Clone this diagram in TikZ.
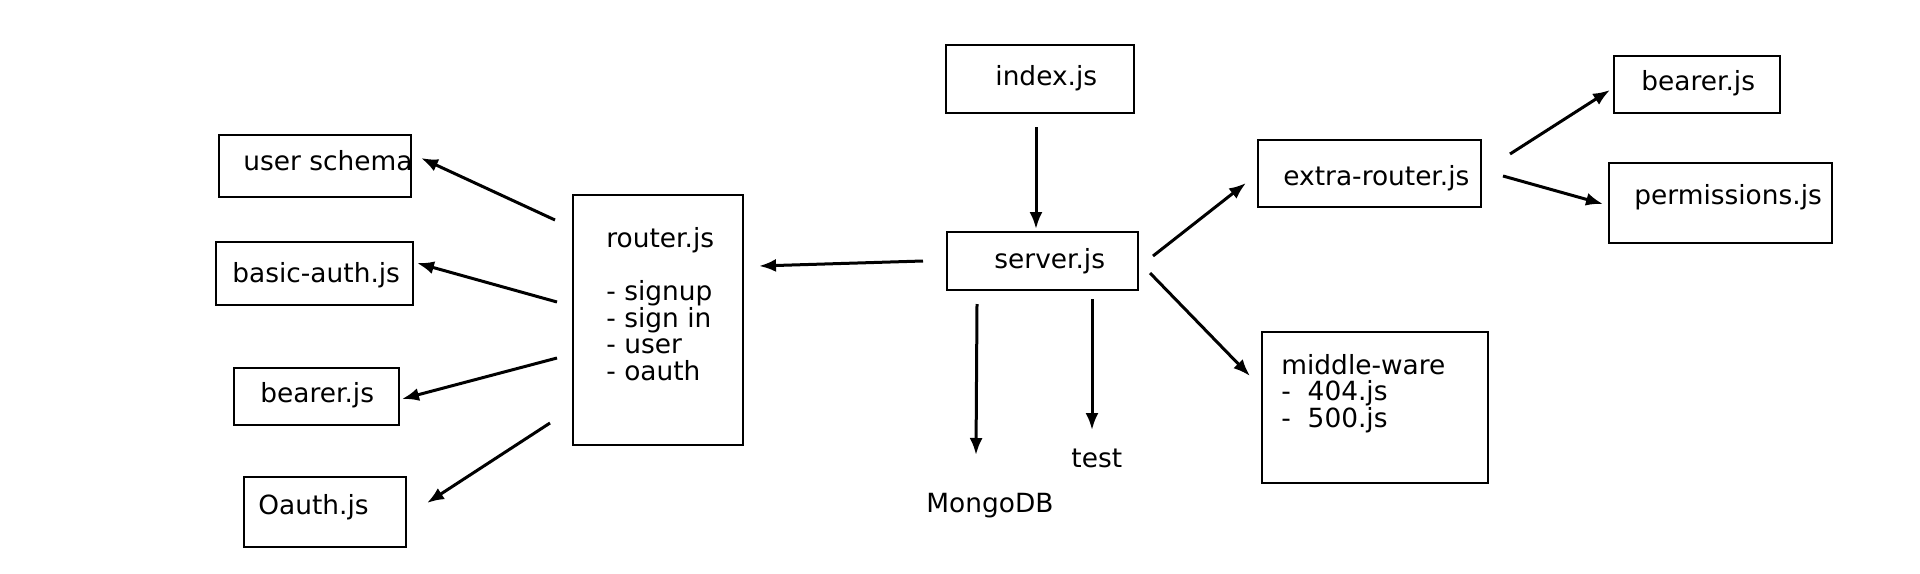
\documentclass[tikz,border=0pt]{standalone}
\usepackage{fontspec}
\setmainfont{DejaVu Sans}
\usetikzlibrary{arrows.meta}
\tikzset{>={Latex[length=8.5pt,width=6.5pt]}}
\tikzstyle{box} = [draw, line width=0.6pt, inner sep=0]
\tikzstyle{lbl} = [draw=none, anchor=base west, inner sep=0, align=left, font=\fontsize{13.2}{13.25}\selectfont]
\tikzstyle{link} = [->, line width=1.5pt]

\begin{document}
\begin{tikzpicture}[x=0.5pt, y=-0.5pt]
\useasboundingbox (0,0) rectangle (1920,573);
% boxes
\node [box, minimum width=96pt, minimum height=31pt] (user) at (315,166) {};
\node [box, minimum width=98.5pt, minimum height=31.5pt] (basic) at (314.5,273.5) {};
\node [box, minimum width=82.5pt, minimum height=28.5pt] (bearerL) at (316.5,396.5) {};
\node [box, minimum width=81pt, minimum height=35pt] (oauth) at (325,512) {};
\node [box, minimum width=85pt, minimum height=125pt] (router) at (658,320) {};
\node [box, minimum width=94pt, minimum height=34pt] (index) at (1040,79) {};
\node [box, minimum width=95.5pt, minimum height=29pt] (server) at (1042.5,261) {};
\node [box, minimum width=111.5pt, minimum height=33.5pt] (extra) at (1369.5,173.5) {};
\node [box, minimum width=83pt, minimum height=28.5pt] (bearerR) at (1697,84.5) {};
\node [box, minimum width=111.5pt, minimum height=40pt] (perm) at (1720.5,203) {};
\node [box, minimum width=113pt, minimum height=75.5pt] (middle) at (1375,407.5) {};
% texts
\node [lbl] (userT) at (243,170) {user schema};
\node [lbl] (basicT) at (232,282) {basic-auth.js};
\node [lbl] (bearerLT) at (260,402) {bearer.js};
\node [lbl] (oauthT) at (258,514) {Oauth.js};
\node [lbl] (routerT) at (606,380) {router.js\\ \mbox{}\\- signup\\- sign in\\- user\\- oauth};
\node [lbl] (indexT) at (995,85) {index.js};
\node [lbl] (serverT) at (994,268) {server.js};
\node [lbl] (test) at (1071,467) {test};
\node [lbl] (mongo) at (926,512) {MongoDB};
\node [lbl] (extraT) at (1283,185) {extra-router.js};
\node [lbl] (bearerRT) at (1641,90) {bearer.js};
\node [lbl] (permT) at (1634,204) {permissions.js};
\node [lbl] (middleT) at (1281,427) {middle-ware\\-~~404.js\\-~~500.js};
% arrow ends
\coordinate (r1) at (555,220);
\coordinate (r2) at (557,302);
\coordinate (r3) at (557,358);
\coordinate (r4) at (550,423);
\coordinate (u1) at (421,158);
\coordinate (b1) at (417,263);
\coordinate (b2) at (402,399);
\coordinate (o1) at (427,503);
\coordinate (s0) at (923,261);
\coordinate (r0) at (759,266);
\coordinate (i1) at (1036,127);
\coordinate (s1) at (1036,229);
\coordinate (s2) at (977,304);
\coordinate (m1) at (976,455);
\coordinate (s3) at (1092,299);
\coordinate (t1) at (1092,430);
\coordinate (s4) at (1153,256);
\coordinate (e1) at (1246,183);
\coordinate (s5) at (1150,273);
\coordinate (w1) at (1250,376);
\coordinate (e2) at (1510,154);
\coordinate (br1) at (1610,90);
\coordinate (e3) at (1503,176);
\coordinate (p1) at (1603,204);
\draw [link] (r1) to (u1);
\draw [link] (r2) to (b1);
\draw [link] (r3) to (b2);
\draw [link] (r4) to (o1);
\draw [link] (s0) to (r0);
\draw [link] (i1) to (s1);
\draw [link] (s2) to (m1);
\draw [link] (s3) to (t1);
\draw [link] (s4) to (e1);
\draw [link] (s5) to (w1);
\draw [link] (e2) to (br1);
\draw [link] (e3) to (p1);
\end{tikzpicture}
\end{document}
